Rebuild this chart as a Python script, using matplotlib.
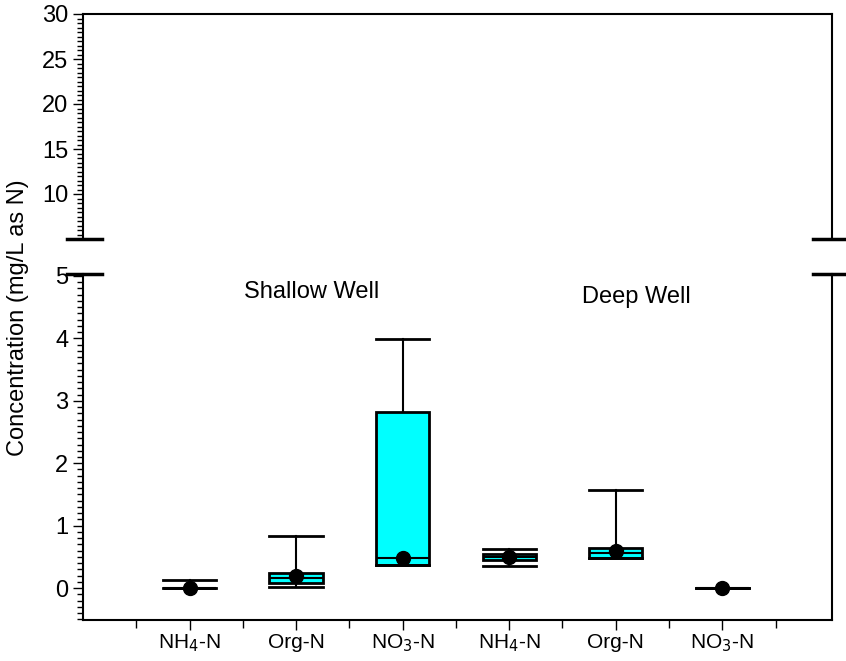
import numpy as np
import matplotlib.pyplot as plt
from matplotlib.ticker import MultipleLocator

plt.rcParams['font.family'] = ['Liberation Sans', 'DejaVu Sans']

# box statistics (mg/L as N)
labels = ['NH$_4$-N', 'Org-N', 'NO$_3$-N', 'NH$_4$-N', 'Org-N', 'NO$_3$-N']
whis_lo = [0.0, 0.02, 0.37, 0.35, 0.48, 0.0]
q1 = [0.0, 0.08, 0.37, 0.45, 0.48, 0.0]
med = [0.0, 0.16, 0.48, 0.50, 0.56, 0.0]
q3 = [0.0, 0.24, 2.82, 0.54, 0.64, 0.0]
whis_hi = [0.13, 0.83, 3.99, 0.63, 1.57, 0.0]
means = [0.0, 0.19, 0.48, 0.50, 0.59, 0.0]
groups = ['Shallow Well', 'Deep Well']

pos = np.arange(1, len(labels) + 1)

fig = plt.figure(figsize=(8.46, 6.61), dpi=100)
L, R = 83 / 846, 832 / 846
ax_top = fig.add_axes([L, 1 - 239 / 661, R - L, (239 - 14) / 661])
ax = fig.add_axes([L, 1 - 620 / 661, R - L, (620 - 274) / 661])

stats = []
for i in range(len(labels)):
    stats.append(dict(whislo=whis_lo[i], q1=q1[i], med=med[i], q3=q3[i],
                      whishi=whis_hi[i], mean=means[i], fliers=[]))

ax.bxp(stats, positions=pos, widths=0.5, capwidths=0.5, patch_artist=True,
       showmeans=True,
       boxprops=dict(facecolor='#00ffff', edgecolor='black', linewidth=2),
       medianprops=dict(color='black', linewidth=1.5),
       whiskerprops=dict(color='black', linewidth=1.5),
       capprops=dict(color='black', linewidth=2),
       meanprops=dict(marker='o', markerfacecolor='black', markeredgecolor='black',
                      markersize=10))

ax.set_xlim(0, 7.03)
ax.set_ylim(-0.51, 5.03)
ax.set_xticks(pos)
ax.set_xticklabels(labels, fontsize=15)
ax.xaxis.set_minor_locator(MultipleLocator(1, offset=0.5))
ax.yaxis.set_minor_locator(MultipleLocator(0.1))
ax.set_yticks(range(0, 6))
ax.tick_params(axis='both', which='major', length=7, width=1)
ax.tick_params(axis='y', which='major', labelsize=17)
ax.tick_params(axis='x', which='major', pad=2)
ax.tick_params(axis='both', which='minor', length=4, width=1)
ax.tick_params(axis='x', which='minor', length=6)
ax.spines['top'].set_visible(False)
for s in ['left', 'right', 'bottom']:
    ax.spines[s].set_linewidth(1.5)

ax.text(2.15, 4.74, groups[0], fontsize=17, ha='center', va='center')
ax.text(5.19, 4.66, groups[1], fontsize=17, ha='center', va='center')

ax_top.set_xlim(0, 7.03)
ax_top.set_ylim(5, 30)
ax_top.set_xticks([])
ax_top.set_yticks([10, 15, 20, 25, 30])
ax_top.yaxis.set_minor_locator(MultipleLocator(0.5))
ax_top.tick_params(axis='y', which='major', length=7, width=1, labelsize=17)
ax_top.tick_params(axis='y', which='minor', length=4, width=1)
ax_top.spines['bottom'].set_visible(False)
for s in ['left', 'right', 'top']:
    ax_top.spines[s].set_linewidth(1.5)

# break marks
for a, y in [(ax_top, 0), (ax, 1)]:
    a.plot([-0.022, 0.025], [y, y], color='black', lw=2.5, transform=a.transAxes, clip_on=False)
    a.plot([0.975, 1.02], [y, y], color='black', lw=2.5, transform=a.transAxes, clip_on=False)

fig.text(18 / 846, 1 - 318 / 661, 'Concentration (mg/L as N)', rotation=90,
         fontsize=17, ha='center', va='center')

fig.savefig('out.png', dpi=100)
